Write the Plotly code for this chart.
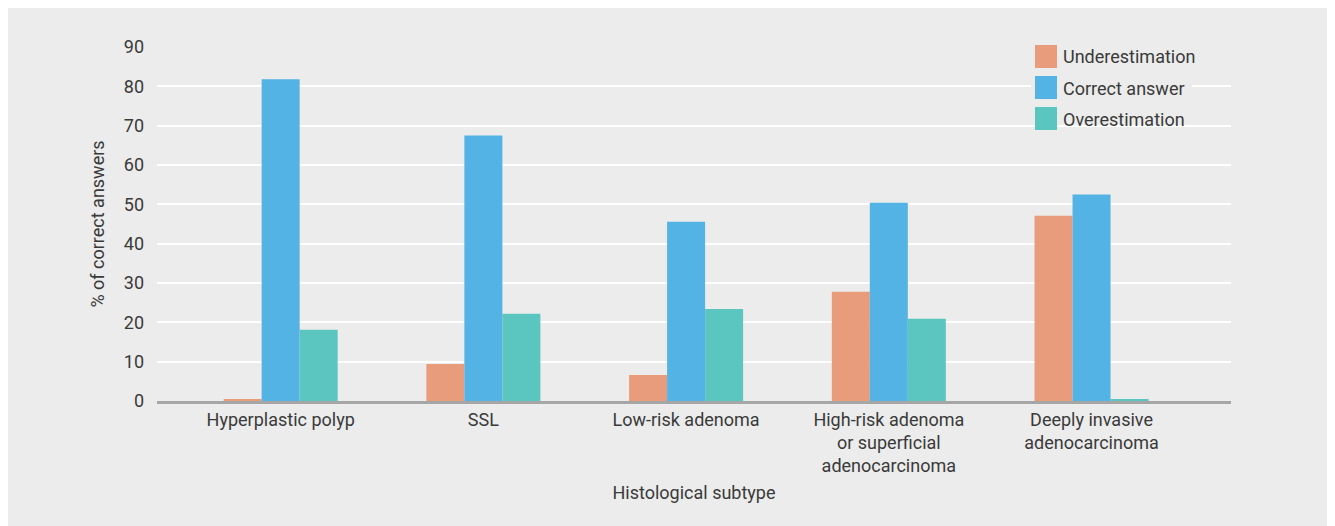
import plotly.graph_objects as go

categories = ["Hyperplastic polyp", "SSL", "Low-risk adenoma",
              "High-risk adenoma<br>or superficial<br>adenocarcinoma",
              "Deeply invasive<br>adenocarcinoma"]
series_names = ["Underestimation", "Correct answer", "Overestimation"]
underestimation = [0.5, 9.4, 6.6, 27.8, 47.1]
correct_answer = [81.8, 67.5, 45.6, 50.4, 52.5]
overestimation = [18.1, 22.2, 23.4, 20.9, 0.5]
y_ticks = [0, 10, 20, 30, 40, 50, 60, 70, 80, 90]

colors = ["#E89C7B", "#53B3E5", "#5BC5BF"]
BG = "#EBECEB"
TXT = "#3A3A3A"
FONT = "Roboto"

# page body has an 8px margin; figure coords = page coords - 8
OFF = 8
W, H = 1335 - OFF, 526 - OFF
L, R, T, B = 157 - OFF, 1231 - OFF, 47 - OFF, 401 - OFF


def px(x):
    return (x - OFF - L) / (R - L)


def py(y):
    return (B - (y - OFF)) / (B - T)


fig = go.Figure()
for name, vals, col in zip(series_names, [underestimation, correct_answer, overestimation], colors):
    fig.add_trace(go.Bar(x=categories, y=vals, name=name, marker=dict(color=col, line=dict(width=0)),
                         showlegend=False))

shapes = [
    dict(type="rect", xref="paper", yref="paper", x0=px(6), x1=px(1330), y0=py(530), y1=py(8),
         fillcolor=BG, line=dict(width=0), layer="below"),
    dict(type="rect", xref="paper", yref="paper", x0=px(1031), x1=px(1192), y0=py(123), y1=py(50),
         fillcolor=BG, line=dict(width=0), layer="above"),
]
annotations = []
sw_tops = [45, 76, 107]
for name, col, top in zip(series_names, colors, sw_tops):
    shapes.append(dict(type="rect", xref="paper", yref="paper", x0=px(1035), x1=px(1057),
                       y0=py(top + 23), y1=py(top), fillcolor=col, line=dict(width=0), layer="above"))
    annotations.append(dict(xref="paper", yref="paper", x=px(1061), y=py(top + 12), text=name,
                            showarrow=False, xanchor="left", yanchor="middle",
                            font=dict(family=FONT, size=18, color=TXT)))

fig.update_layout(
    width=W, height=H,
    margin=dict(l=L, r=W - R, t=T, b=H - B, pad=0),
    paper_bgcolor="white", plot_bgcolor="rgba(0,0,0,0)",
    barmode="group", bargap=0.4375, bargroupgap=0,
    font=dict(family=FONT, size=18, color=TXT),
    shapes=shapes, annotations=annotations,
    xaxis=dict(type="category", range=[-0.61, 4.688], showgrid=False, showline=True,
               linecolor="#A6A6A6", linewidth=3, ticks="", zeroline=False,
               tickfont=dict(family=FONT, size=18, color=TXT),
               title=dict(text="Histological subtype", font=dict(family=FONT, size=18, color=TXT), standoff=11)),
    yaxis=dict(range=[0, 90], tickvals=y_ticks, showgrid=True, gridcolor="white", gridwidth=2,
               zeroline=False, showline=False, ticks="", ticklabelstandoff=12,
               tickfont=dict(family=FONT, size=18, color=TXT),
               title=dict(text="% of correct answers", font=dict(family=FONT, size=18, color=TXT), standoff=14)),
)

fig.write_html("out.html")
